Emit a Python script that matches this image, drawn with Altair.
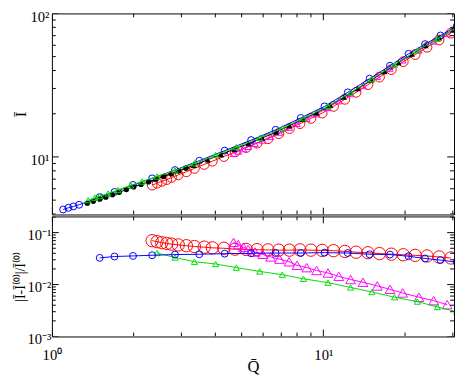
import altair as alt
import pandas as pd

# ---------------- axis ranges / ticks ----------------
X_DOMAIN = [1.0, 30.3]
TOP_Y_DOMAIN = [3.97, 100.0]
BOT_Y_DOMAIN = [0.001, 0.205]

X_MAJOR = [1, 10]
X_MAJOR_LABELS = ["10⁰", "10¹"]
X_MINOR = [2, 3, 4, 5, 6, 7, 8, 9, 20, 30]
TOP_Y_MAJOR = [10, 100]
TOP_Y_LABELS = ["10¹", "10²"]
TOP_Y_MINOR = [4, 5, 6, 7, 8, 9, 20, 30, 40, 50, 60, 70, 80, 90]
BOT_Y_MAJOR = [0.001, 0.01, 0.1]
BOT_Y_LABELS = ["10⁻³", "10⁻²", "10⁻¹"]
BOT_Y_MINOR = [0.002, 0.003, 0.004, 0.005, 0.006, 0.007, 0.008, 0.009,
               0.02, 0.03, 0.04, 0.05, 0.06, 0.07, 0.08, 0.09, 0.2]

# ---------------- top panel series ----------------
BLUE_TOP_X = [1.10, 1.15, 1.20, 1.26, 1.50, 1.70, 1.99, 2.34, 2.84, 3.49, 4.33, 5.42,
              6.67, 8.26, 10.1, 12.3, 14.8, 17.6, 20.6, 23.7, 27.0, 31.0]
BLUE_TOP_Y = [4.30, 4.42, 4.52, 4.64, 5.25, 5.70, 6.38, 7.09, 8.10, 9.41, 11.06, 13.1,
              15.45, 18.7, 22.5, 28.2, 35.1, 43.2, 52.3, 61.1, 70.2, 81.6]

BLACK_X = [1.35, 1.42, 1.50, 1.58, 1.67, 1.77, 1.88, 2.0, 2.13, 2.27, 2.42, 2.58, 2.75,
           2.93, 3.12, 3.33, 3.75, 4.2, 4.7, 5.3, 5.95, 6.7, 7.5, 8.4, 9.45, 10.6, 11.9,
           13.4, 15.0, 16.8, 18.9, 21.2, 23.8, 26.7, 30.0]
BLACK_Y = [4.76, 4.91, 5.08, 5.24, 5.44, 5.67, 5.92, 6.18, 6.43, 6.70, 7.00, 7.30, 7.62,
           7.98, 8.34, 8.74, 9.56, 10.4, 11.32, 12.39, 13.53, 14.9, 16.5, 18.3, 20.3, 22.9,
           26.1, 30.0, 34.4, 39.4, 45.5, 52.0, 59.6, 67.6, 76.7]

GREEN_TOP_X = [1.36, 1.44, 1.50, 1.61, 1.75, 1.95, 2.15, 2.44, 2.84, 3.35, 4.01, 4.78,
               5.83, 7.06, 8.45, 10.4, 12.6, 15.1, 18.3, 22.2, 26.3, 31.0]
GREEN_TOP_Y = [5.0, 5.2, 5.33, 5.56, 5.88, 6.34, 6.74, 7.31, 8.06, 9.03, 10.3, 11.71,
               13.55, 15.85, 18.6, 22.6, 28.1, 34.9, 44.0, 55.2, 66.4, 79.6]

RED_X = [2.34, 2.44, 2.54, 2.65, 2.76, 2.92, 3.13, 3.35, 3.64, 3.90, 4.30, 4.73, 5.2,
         5.7, 6.25, 6.85, 7.5, 8.2, 9.0, 9.9, 10.9, 12.0, 13.2, 14.6, 16.1, 17.8, 19.7,
         21.8, 24.1, 26.7, 29.5]
RED_TOP_Y = [6.36, 6.56, 6.76, 6.95, 7.20, 7.50, 7.88, 8.32, 8.86, 9.34, 10.06, 10.83,
             11.63, 12.47, 13.38, 14.51, 15.76, 17.06, 18.54, 20.2, 22.5, 25.2, 28.2,
             31.9, 36.0, 40.6, 46.1, 51.7, 58.1, 65.3, 72.8]

MAG_X = [4.67, 4.86, 5.07, 5.28, 5.60, 5.98, 6.39, 6.89, 7.48, 8.00, 8.69, 9.44, 10.4,
         11.4, 12.6, 14.0, 15.8, 17.6, 19.6, 22.5, 25.5, 28.6]
MAG_TOP_Y = [10.54, 10.93, 11.36, 11.78, 12.37, 13.05, 13.80, 14.81, 16.03, 17.06, 18.45,
             19.9, 22.0, 24.5, 27.5, 31.3, 36.3, 41.4, 47.2, 55.4, 64.0, 72.5]

# ---------------- bottom panel series ----------------
BLUE_BOT_X = [1.50, 1.70, 1.99, 2.34, 2.84, 3.49, 4.33, 5.42, 6.67, 8.26, 10.1, 12.3,
              14.8, 17.6, 20.6, 23.7, 27.0, 31.0]
BLUE_BOT_Y = [0.0327, 0.0347, 0.0356, 0.0367, 0.0378, 0.0383, 0.0394, 0.0400, 0.0405,
              0.0405, 0.0412, 0.0405, 0.0383, 0.0378, 0.0351, 0.0318, 0.0296, 0.0270]

RED_BOT_Y = [0.070, 0.067, 0.064, 0.062, 0.060, 0.058, 0.056, 0.054, 0.0525, 0.051,
             0.050, 0.048, 0.0475, 0.047, 0.0465, 0.046, 0.046, 0.0465, 0.046, 0.0455,
             0.045, 0.0435, 0.042, 0.041, 0.0395, 0.0385, 0.0375, 0.0365, 0.0355,
             0.034, 0.0325]

MAG_BOT_Y = [0.065, 0.0589, 0.0525, 0.0475, 0.0423, 0.0383, 0.0341, 0.0309, 0.0275,
             0.0235, 0.0212, 0.0187, 0.0167, 0.0144, 0.0125, 0.0111, 0.0094, 0.0081,
             0.0069, 0.0057, 0.0049, 0.0041]

GREEN_BOT_X = [2.44, 2.84, 3.35, 4.01, 4.78, 5.83, 7.06, 8.45, 10.4, 12.6, 15.1, 18.3,
               22.2, 26.3, 31.0]
GREEN_BOT_Y = [0.0405, 0.0332, 0.0275, 0.0249, 0.0212, 0.0179, 0.0155, 0.0129, 0.0109,
               0.0088, 0.0072, 0.0057, 0.0047, 0.0037, 0.0030]

# ---------------- layout / style ----------------
W, H_TOP, H_BOT = 412, 206, 123
FONT = "Liberation Serif"
BLUE, RED, GREEN, MAG, BLACK = "#0000ff", "#ff0000", "#00dd00", "#ff00ff", "#000000"


def label_expr(values, labels):
    expr = "''"
    for v, l in zip(reversed(values), reversed(labels)):
        expr = f"datum.value == {v} ? '{l}' : ({expr})"
    return expr


xscale = alt.Scale(type="log", domain=X_DOMAIN, nice=False)
top_scale = alt.Scale(type="log", domain=TOP_Y_DOMAIN, nice=False)
bot_scale = alt.Scale(type="log", domain=BOT_Y_DOMAIN, nice=False)

top_yaxis = alt.Axis(values=TOP_Y_MAJOR, labelExpr=label_expr(TOP_Y_MAJOR, TOP_Y_LABELS),
                     ticks=False, domain=False, grid=False, labelPadding=3, labelOffset=3,
                     labelFlush=False, labelOverlap=False, title="Ī", titleAngle=270,
                     titleX=-27, titleY=H_TOP / 2, titleBaseline="alphabetic",
                     titleFontSize=16)
bot_yaxis = alt.Axis(values=BOT_Y_MAJOR, labelExpr=label_expr(BOT_Y_MAJOR, BOT_Y_LABELS),
                     ticks=False, domain=False, grid=False, labelPadding=1, labelOffset=2,
                     labelFlush=False, labelOverlap=False,
                     title="|Ī-Ī⁽⁰⁾|/Ī⁽⁰⁾", titleAngle=270, titleX=-28,
                     titleY=H_BOT / 2, titleBaseline="alphabetic", titleFontSize=14)
bot_xaxis = alt.Axis(values=X_MAJOR, labelExpr=label_expr(X_MAJOR, X_MAJOR_LABELS),
                     ticks=False, domain=False, grid=False, labelPadding=12,
                     labelFlush=False, labelOverlap=False, title="Q̄",
                     titleY=36, titleBaseline="alphabetic", titleFontSize=17)


def series(xs, ys, color, shape, size, filled, yscale, yaxis, xaxis, line=True):
    df = pd.DataFrame({"x": xs, "y": ys})
    enc = dict(x=alt.X("x:Q", scale=xscale, axis=xaxis),
               y=alt.Y("y:Q", scale=yscale, axis=yaxis))
    out = []
    if line:
        out.append(alt.Chart(df).mark_line(color=color, strokeWidth=1, clip=True).encode(**enc))
    out.append(alt.Chart(df).mark_point(shape=shape, size=size, filled=filled, color=color,
                                        strokeWidth=1, opacity=1, fillOpacity=1,
                                        clip=True).encode(**enc))
    return out


def ticks(ymajor, yminor, yscale, yaxis, xaxis, h):
    out = []
    for xs, ys, L in ((X_MAJOR, ymajor, 7), (X_MINOR, yminor, 4)):
        dfy = pd.DataFrame({"v": ys})
        dfx = pd.DataFrame({"v": xs})
        ye = alt.Y("v:Q", scale=yscale, axis=yaxis)
        xe = alt.X("v:Q", scale=xscale, axis=xaxis)
        out.append(alt.Chart(dfy).mark_rule(color="black", strokeWidth=1, clip=True).encode(
            y=ye, x=alt.value(0), x2=alt.value(L)))
        out.append(alt.Chart(dfy).mark_rule(color="black", strokeWidth=1, clip=True).encode(
            y=ye, x=alt.value(W), x2=alt.value(W - L)))
        out.append(alt.Chart(dfx).mark_rule(color="black", strokeWidth=1, clip=True).encode(
            x=xe, y=alt.value(h), y2=alt.value(h - L)))
        out.append(alt.Chart(dfx).mark_rule(color="black", strokeWidth=1, clip=True).encode(
            x=xe, y=alt.value(0), y2=alt.value(L)))
    return out


# top panel
bx_c = [x for x in BLACK_X if x < 3.2]
by_c = [y for x, y in zip(BLACK_X, BLACK_Y) if x < 3.2]
bx_t = [x for x in BLACK_X if x >= 3.2]
by_t = [y for x, y in zip(BLACK_X, BLACK_Y) if x >= 3.2]

top_layers = []
top_layers += series(RED_X, RED_TOP_Y, RED, "circle", 100, False, top_scale, top_yaxis, None)
top_layers += series(MAG_X, MAG_TOP_Y, MAG, "triangle-up", 45, False, top_scale, top_yaxis, None)
top_layers += series(BLUE_TOP_X, BLUE_TOP_Y, BLUE, "circle", 50, False, top_scale, top_yaxis, None)
top_layers += series(BLACK_X, BLACK_Y, BLACK, "circle", 1, True, top_scale, top_yaxis, None)
top_layers += series(bx_c, by_c, BLACK, "circle", 30, True, top_scale, top_yaxis, None, line=False)
top_layers += series(bx_t, by_t, BLACK, "triangle-up", 40, True, top_scale, top_yaxis, None, line=False)
top_layers += series(GREEN_TOP_X, GREEN_TOP_Y, GREEN, "triangle-up", 40, False, top_scale, top_yaxis, None)
top_layers += ticks(TOP_Y_MAJOR, TOP_Y_MINOR, top_scale, top_yaxis, None, H_TOP)
top = alt.layer(*top_layers).properties(width=W, height=H_TOP)

# bottom panel
bot_layers = []
bot_layers += series(RED_X, RED_BOT_Y, RED, "circle", 160, False, bot_scale, bot_yaxis, bot_xaxis)
bot_layers += series(MAG_X, MAG_BOT_Y, MAG, "triangle-up", 100, False, bot_scale, bot_yaxis, bot_xaxis)
bot_layers += series(GREEN_BOT_X, GREEN_BOT_Y, GREEN, "triangle-up", 40, False, bot_scale, bot_yaxis, bot_xaxis)
bot_layers += series(BLUE_BOT_X, BLUE_BOT_Y, BLUE, "circle", 50, False, bot_scale, bot_yaxis, bot_xaxis)
bot_layers += ticks(BOT_Y_MAJOR, BOT_Y_MINOR, bot_scale, bot_yaxis, bot_xaxis, H_BOT)
bottom = alt.layer(*bot_layers).properties(width=W, height=H_BOT)

chart = (
    alt.vconcat(top, bottom, spacing=0)
    .properties(padding={"left": 4, "top": -4, "right": 0, "bottom": 0})
    .configure_view(stroke="black", strokeWidth=1)
    .configure_axis(labelFont=FONT, labelFontSize=15, labelColor="black",
                    titleFont=FONT, titleColor="black", titleFontWeight="normal")
)

chart.save("out.html", embed_options={"renderer": "svg", "actions": False})
